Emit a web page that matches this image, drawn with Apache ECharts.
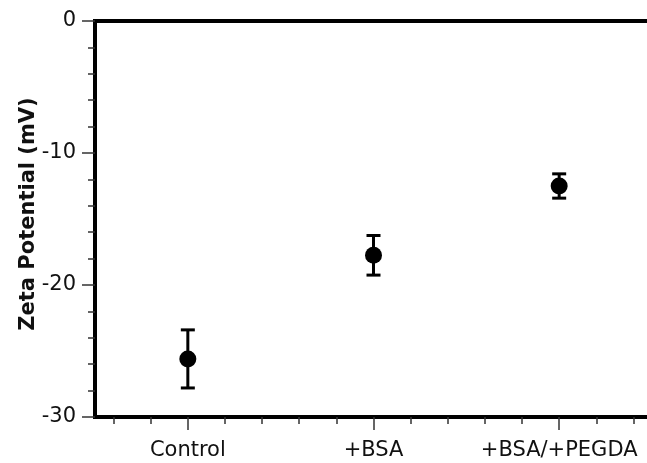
<!DOCTYPE html>
<html>
<head>
<meta charset="utf-8">
<script src="https://cdn.jsdelivr.net/npm/echarts@6/dist/echarts.min.js"></script>
<style>
  html, body { margin: 0; padding: 0; background: #fff; }
  #chart { width: 647px; height: 463px; }
</style>
</head>
<body>
<div id="chart"></div>
<script>
// data
const categories = ['Control', '+BSA', '+BSA/+PEGDA'];
const positions = [1, 2, 3];
const means = [-25.6, -17.75, -12.5];
const errors = [2.2, 1.5, 0.92];
const yTicks = [0, -10, -20, -30];
const xMinorTicks = [0.6, 0.8, 1.2, 1.4, 1.6, 1.8, 2.2, 2.4, 2.6, 2.8, 3.2, 3.4];

document.addEventListener('DOMContentLoaded', function () {
    const chart = echarts.init(document.getElementById('chart'));
    const font = 'DejaVu Sans, Verdana, sans-serif';
    const gridTop = 21, gridBottom = 46;
    const plotHeight = 463 - gridTop - gridBottom;

    const points = positions.map(function (p, i) { return [p, means[i]]; });
    const bars = positions.map(function (p, i) { return [p, means[i] - errors[i], means[i] + errors[i]]; });

    const option = {
        animation: false,
        grid: {
            left: 95,
            right: -5,
            top: gridTop,
            bottom: gridBottom,
            outerBoundsMode: 'none',
            show: true,
            borderColor: '#000',
            borderWidth: 4
        },
        xAxis: [
            {
                // minor ticks, labels and the axis line
                type: 'value',
                min: 0.5,
                max: 3.5,
                position: 'bottom',
                splitLine: { show: false },
                axisLine: { show: true, onZero: false, lineStyle: { color: '#000', width: 4 } },
                axisTick: {
                    show: true,
                    customValues: xMinorTicks,
                    length: 7,
                    lineStyle: { color: '#333', width: 1.5 }
                },
                axisLabel: {
                    customValues: positions,
                    margin: 23,
                    fontFamily: font,
                    fontSize: 21,
                    color: '#111',
                    formatter: function (v) {
                        return categories[positions.indexOf(Math.round(v))] || '';
                    }
                }
            },
            {
                // major ticks, moved down onto the bottom edge
                type: 'value',
                min: 0.5,
                max: 3.5,
                position: 'top',
                offset: -plotHeight,
                splitLine: { show: false },
                axisLine: { show: false, onZero: false },
                axisTick: {
                    show: true,
                    inside: true,
                    customValues: positions,
                    length: 13,
                    lineStyle: { color: '#333', width: 1.5 }
                },
                axisLabel: { show: false }
            }
        ],
        yAxis: {
            type: 'value',
            min: -30,
            max: 0,
            interval: 10,
            name: 'Zeta Potential (mV)',
            nameLocation: 'middle',
            nameGap: 56,
            nameMoveOverlap: false,
            nameTextStyle: {
                fontFamily: font,
                fontSize: 21,
                fontWeight: 'bold',
                color: '#111',
                padding: [0, 0, 0, 10]
            },
            splitLine: { show: false },
            axisLine: { show: true, onZero: false, lineStyle: { color: '#000', width: 4 } },
            axisTick: { show: true, length: 13, lineStyle: { color: '#333', width: 1.5 } },
            minorTick: { show: true, splitNumber: 5, length: 7, lineStyle: { color: '#333', width: 1.5 } },
            axisLabel: {
                margin: 19,
                fontFamily: font,
                fontSize: 21,
                color: '#111',
                formatter: function (v) {
                    return yTicks.indexOf(v) >= 0 ? String(v) : '';
                }
            }
        },
        series: [
            {
                type: 'custom',
                xAxisIndex: 0,
                data: bars,
                renderItem: function (params, api) {
                    const x = api.value(0);
                    const lo = api.coord([x, api.value(1)]);
                    const hi = api.coord([x, api.value(2)]);
                    const half = 7;
                    const style = { stroke: '#000', lineWidth: 3 };
                    return {
                        type: 'group',
                        children: [
                            { type: 'line', shape: { x1: lo[0], y1: lo[1], x2: hi[0], y2: hi[1] }, style: style },
                            { type: 'line', shape: { x1: lo[0] - half, y1: lo[1], x2: lo[0] + half, y2: lo[1] }, style: style },
                            { type: 'line', shape: { x1: hi[0] - half, y1: hi[1], x2: hi[0] + half, y2: hi[1] }, style: style }
                        ]
                    };
                },
                z: 2
            },
            {
                type: 'scatter',
                xAxisIndex: 0,
                data: points,
                symbol: 'circle',
                symbolSize: 17,
                itemStyle: { color: '#000', opacity: 1 },
                z: 3
            }
        ]
    };

    chart.setOption(option);
    window.addEventListener('resize', function () { chart.resize(); });
});
</script>
</body>
</html>
